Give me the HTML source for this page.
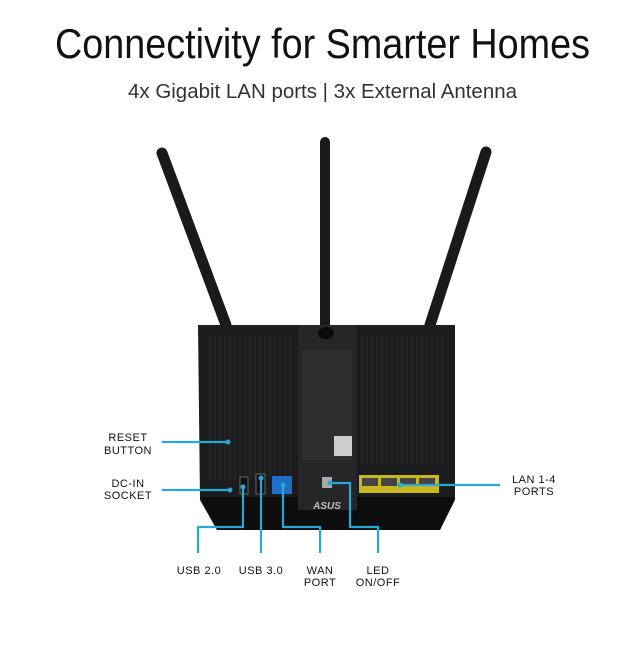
<!DOCTYPE html>
<html><head><meta charset="utf-8"><style>
html,body{margin:0;padding:0;background:#fff;width:640px;height:656px;overflow:hidden}
svg{display:block}
</style></head><body>
<svg width="640" height="656" viewBox="0 0 640 656" xmlns="http://www.w3.org/2000/svg" font-family="Liberation Sans, sans-serif">
<text x="55" y="58" font-size="42" fill="#111" textLength="535" lengthAdjust="spacingAndGlyphs">Connectivity for Smarter Homes</text>
<text x="128" y="98" font-size="20" fill="#333" textLength="389" lengthAdjust="spacingAndGlyphs">4x Gigabit LAN ports | 3x External Antenna</text>
<!-- antennas -->
<g stroke="#1a1a1a" stroke-linecap="round">
<line x1="162" y1="153" x2="226" y2="325" stroke-width="11"/>
<line x1="325" y1="142" x2="325" y2="325" stroke-width="10"/>
<line x1="486" y1="152" x2="430" y2="325" stroke-width="11"/>
</g>
<!-- body -->
<path d="M198 325 L455 325 L455 500 L440 530 L217 530 L200 500 Z" fill="#1c1c1e"/>
<path d="M200 497 L455 497 L440 530 L217 530 Z" fill="#0d0d0e"/>
<rect x="298" y="325" width="59" height="185" fill="#262628"/>
<g stroke="#2c2c2e" stroke-width="1">
<path d="M210 335 V480 M215 335 V480 M220 335 V480 M225 335 V480 M230 335 V480 M235 335 V480 M240 335 V480 M245 335 V480 M250 335 V480 M255 335 V480 M260 335 V480 M265 335 V480 M270 335 V480 M275 335 V480 M280 335 V480 M285 335 V480 M290 335 V480"/>
<path d="M362 335 V465 M367 335 V465 M372 335 V465 M377 335 V465 M382 335 V465 M387 335 V465 M392 335 V465 M397 335 V465 M402 335 V465 M407 335 V465 M412 335 V465 M417 335 V465 M422 335 V465 M427 335 V465 M432 335 V465 M437 335 V465 M442 335 V465"/>
</g>
<rect x="302" y="350" width="50" height="110" fill="#333" opacity="0.6"/>
<rect x="334" y="436" width="18" height="20" fill="#ccc"/>
<ellipse cx="326" cy="333" rx="8" ry="6" fill="#0a0a0a"/>
<!-- ports -->
<rect x="240" y="477" width="8" height="17" fill="#111" stroke="#888" stroke-width="0.7"/>
<rect x="256" y="474" width="9" height="20" fill="#111" stroke="#888" stroke-width="0.7"/>
<rect x="272" y="476" width="20" height="18" fill="#1e6fc8"/>
<rect x="322" y="477" width="10" height="11" fill="#aaa"/>
<rect x="359" y="475" width="80" height="18" fill="#c8b820"/>
<g fill="#444"><rect x="362" y="478" width="16" height="8"/><rect x="381" y="478" width="16" height="8"/><rect x="400" y="478" width="16" height="8"/><rect x="419" y="478" width="16" height="8"/></g>
<text x="327" y="509" font-size="10" fill="#bbb" text-anchor="middle" font-style="italic" font-weight="bold">ASUS</text>
<!-- connectors -->
<g stroke="#2aa7d6" stroke-width="2.2" fill="none">
<path d="M162 442 H227"/>
<path d="M162 490 H230"/>
<path d="M400 485 H500"/>
<path d="M198 553 V527 H243 V487"/>
<path d="M261 553 V478"/>
<path d="M283 485 V527 H320 V553"/>
<path d="M330 483 H350 V527 H378 V553"/>
</g>
<g fill="#2aa7d6"><circle cx="228" cy="442" r="2.5"/><circle cx="230" cy="490" r="2.5"/><circle cx="400" cy="485" r="2.5"/><circle cx="243" cy="487" r="2.5"/><circle cx="261" cy="478" r="2.5"/><circle cx="283" cy="485" r="2.5"/><circle cx="330" cy="483" r="2.5"/></g>
<!-- labels -->
<g font-size="11" fill="#111" text-anchor="middle" letter-spacing="0.5">
<text x="128" y="441">RESET</text><text x="128" y="454">BUTTON</text>
<text x="128" y="487">DC-IN</text><text x="128" y="499">SOCKET</text>
<text x="534" y="483">LAN 1-4</text><text x="534" y="495">PORTS</text>
<text x="199" y="574">USB 2.0</text>
<text x="261" y="574">USB 3.0</text>
<text x="320" y="574">WAN</text><text x="320" y="586">PORT</text>
<text x="378" y="574">LED</text><text x="378" y="586">ON/OFF</text>
</g>
</svg>
</body></html>
